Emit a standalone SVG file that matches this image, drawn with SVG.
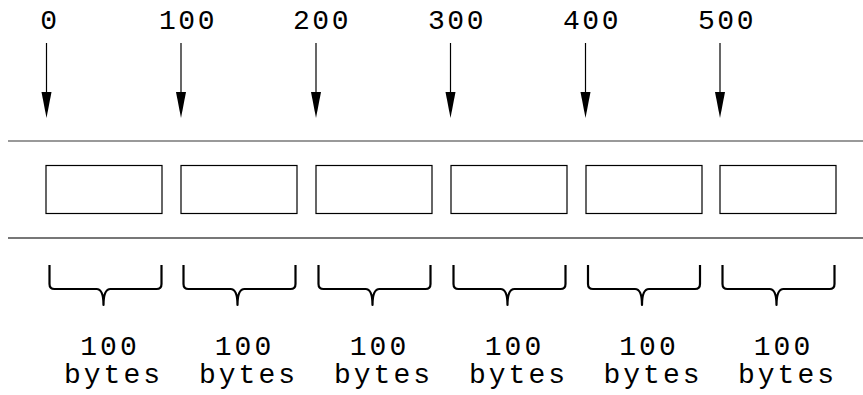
<svg xmlns="http://www.w3.org/2000/svg" xmlns:xlink="http://www.w3.org/1999/xlink" width="863" height="395" viewBox="0 0 863 395">
<style>
.lbl{font-family:"Liberation Mono","Courier New",monospace;font-size:28px;fill:#000;text-anchor:middle;letter-spacing:3px}
.top{letter-spacing:2.5px}
.box{fill:#fff;stroke:#000;stroke-width:1.2}
.rule{stroke:#777;fill:none}
.arr{stroke:#000;stroke-width:1.2;fill:none}
.brace{stroke:#000;stroke-width:2.2;fill:none;stroke-linejoin:round}
</style>
<defs>
<path id="br" d="M0,265 V284 Q0,289 5,289 H47 Q54,289 54,305 Q54,289 61,289 H107 Q112,289 112,284 V265"/>
</defs>
<rect width="863" height="395" fill="#fff"/>
<g id="rules">
<line class="rule" x1="8" y1="141" x2="863" y2="141" stroke-width="1.5"/>
<line class="rule" x1="8" y1="238" x2="863" y2="238" stroke-width="2.2"/>
</g>
<g id="connectors">
<line class="arr" x1="46.5" y1="43" x2="46.5" y2="92"/><path d="M41.5,92 L51.5,92 L46.5,118 Z"/>
<line class="arr" x1="181" y1="43" x2="181" y2="92"/><path d="M176,92 L186,92 L181,118 Z"/>
<line class="arr" x1="316" y1="43" x2="316" y2="92"/><path d="M311,92 L321,92 L316,118 Z"/>
<line class="arr" x1="450.5" y1="43" x2="450.5" y2="92"/><path d="M445.5,92 L455.5,92 L450.5,118 Z"/>
<line class="arr" x1="585.5" y1="43" x2="585.5" y2="92"/><path d="M580.5,92 L590.5,92 L585.5,118 Z"/>
<line class="arr" x1="720" y1="43" x2="720" y2="92"/><path d="M715,92 L725,92 L720,118 Z"/>
</g>
<g id="offsets">
<text class="lbl top" x="50" y="29">0</text>
<text class="lbl top" x="188" y="29">100</text>
<text class="lbl top" x="322" y="29">200</text>
<text class="lbl top" x="457" y="29">300</text>
<text class="lbl top" x="592" y="29">400</text>
<text class="lbl top" x="727" y="29">500</text>
</g>
<g id="seg1"><rect class="box" x="46" y="165.5" width="116" height="48"/><use href="#br" xlink:href="#br" class="brace" transform="translate(49.5,0)"/><text class="lbl" x="110" y="355">100</text><text class="lbl" x="113.5" y="383">bytes</text></g>
<g id="seg2"><rect class="box" x="181" y="165.5" width="116" height="48"/><use href="#br" xlink:href="#br" class="brace" transform="translate(183.5,0)"/><text class="lbl" x="244.5" y="355">100</text><text class="lbl" x="248.5" y="383">bytes</text></g>
<g id="seg3"><rect class="box" x="316" y="165.5" width="116" height="48"/><use href="#br" xlink:href="#br" class="brace" transform="translate(318.5,0)"/><text class="lbl" x="379.5" y="355">100</text><text class="lbl" x="383.5" y="383">bytes</text></g>
<g id="seg4"><rect class="box" x="451" y="165.5" width="116" height="48"/><use href="#br" xlink:href="#br" class="brace" transform="translate(453.5,0)"/><text class="lbl" x="514.5" y="355">100</text><text class="lbl" x="518.5" y="383">bytes</text></g>
<g id="seg5"><rect class="box" x="586" y="165.5" width="116" height="48"/><use href="#br" xlink:href="#br" class="brace" transform="translate(588,0)"/><text class="lbl" x="649" y="355">100</text><text class="lbl" x="653" y="383">bytes</text></g>
<g id="seg6"><rect class="box" x="720" y="165.5" width="116" height="48"/><use href="#br" xlink:href="#br" class="brace" transform="translate(722.5,0)"/><text class="lbl" x="783.5" y="355">100</text><text class="lbl" x="787.5" y="383">bytes</text></g>
</svg>
